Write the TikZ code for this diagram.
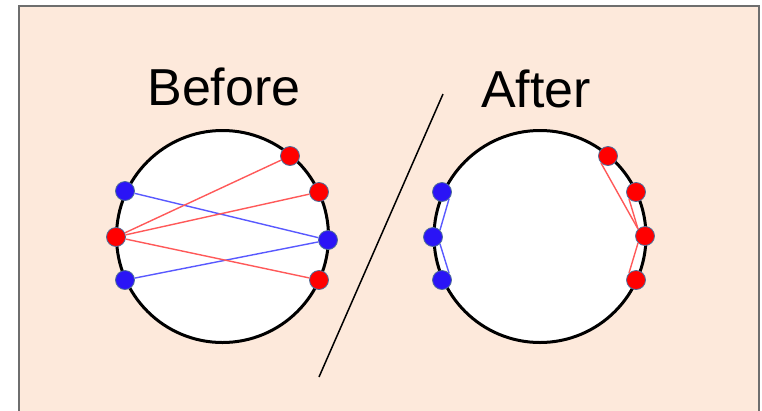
\documentclass[tikz,border=0pt]{standalone}
\usepackage{fontspec}
\setmainfont{Liberation Sans}
\usepackage{xcolor}
\definecolor{peach}{HTML}{FDE9DB}
\definecolor{dotred}{HTML}{FF0000}
\definecolor{dotblue}{HTML}{2A14F6}
\definecolor{dotrim}{HTML}{4F6E9A}
\definecolor{framegray}{HTML}{6E6E6E}

\begin{document}
\begin{tikzpicture}[
    x=1pt, y=-1pt,
    ring/.style={circle, draw, line width=3pt, fill=white, minimum size=212pt, inner sep=0pt},
    pt/.style={circle, draw=dotrim, line width=0.8pt, minimum size=19pt, inner sep=0pt},
    rpt/.style={pt, fill=dotred},
    bpt/.style={pt, fill=dotblue},
    rline/.style={red!65, line width=1.4pt},
    bline/.style={blue!65, line width=1.4pt},
    title/.style={font=\fontsize{52}{60}\selectfont, inner sep=0pt, anchor=base},
]
\useasboundingbox (0,0) rectangle (762,410);
\filldraw[fill=peach, draw=framegray, line width=1.2pt] (19,6) rectangle (759,420);

% titles
\node[title] (tbefore) at (224,105) {Before};
\node[title] (tafter) at (536,107) {After};

% the two rings
\node[ring] (cbefore) at (222.5,236.5) {};
\node[ring] (cafter) at (540,236.5) {};

% slash
\coordinate (s1) at (443,94);
\coordinate (s2) at (319,377);
\draw[line width=1.5pt] (s1) -- (s2);

% before
\node[bpt] (bb1) at (125,191) {};
\node[bpt] (bb2) at (125,280) {};
\node[bpt] (bb3) at (328,240) {};
\node[rpt] (br1) at (116,237) {};
\node[rpt] (br2) at (290,156) {};
\node[rpt] (br3) at (319,192) {};
\node[rpt] (br4) at (319,280) {};

\foreach \a/\b in {bb1/bb3, bb2/bb3} {
    \draw[bline] (\a) -- (\b);
}
\foreach \a/\b in {br1/br2, br1/br3, br1/br4} {
    \draw[rline] (\a) -- (\b);
}

% after
\node[bpt] (ab1) at (442,192) {};
\node[bpt] (ab2) at (433,237) {};
\node[bpt] (ab3) at (442,280) {};
\node[rpt] (ar1) at (608,156) {};
\node[rpt] (ar2) at (636,192) {};
\node[rpt] (ar3) at (645,236) {};
\node[rpt] (ar4) at (636,280) {};

\foreach \a/\b in {ab1.south east/ab2.north east, ab2.south east/ab3.north east} {
    \draw[bline] (\a) -- (\b);
}
\foreach \a/\b in {ar1.south west/ar3.north west, ar2.south west/ar3.north west, ar3.south west/ar4.north west} {
    \draw[rline] (\a) -- (\b);
}

\end{tikzpicture}
\end{document}
